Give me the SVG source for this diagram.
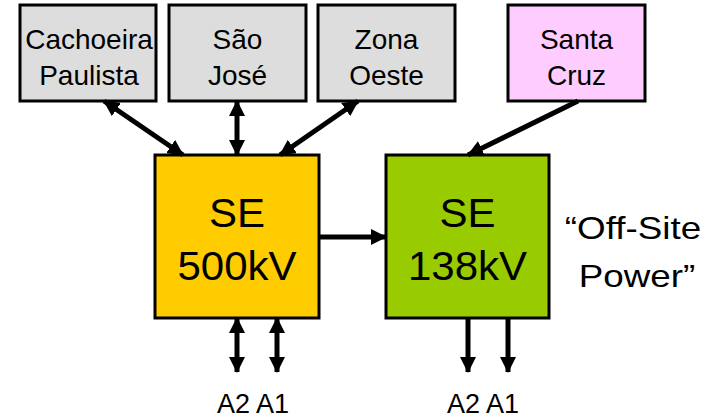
<svg xmlns="http://www.w3.org/2000/svg" width="712" height="416" viewBox="0 0 712 416">
<style>
.box{stroke:#000;stroke-width:3}
.t{font-family:"Liberation Sans",Arial,sans-serif;fill:#000;text-anchor:middle}
.s{font-size:28px}
.b{font-size:40px}
.c{stroke:#000;stroke-width:5;fill:none}
</style>
<defs>
<marker id="ah" viewBox="0 0 16 16" refX="15" refY="8" markerWidth="16" markerHeight="16" markerUnits="userSpaceOnUse" orient="auto-start-reverse">
<path d="M0,0 L16,8 L0,16 z" fill="#000"/>
</marker>
</defs>
<rect width="712" height="416" fill="#fff"/>
<g id="cachoeira">
<rect class="box" x="20" y="5" width="136" height="96" fill="#DDDDDD"/>
<text class="t s" x="89" y="49">Cachoeira</text>
<text class="t s" x="89" y="85">Paulista</text>
</g>
<g id="saojose">
<rect class="box" x="169" y="5" width="137" height="96" fill="#DDDDDD"/>
<text class="t s" x="237.5" y="49">São</text>
<text class="t s" x="237.5" y="85">José</text>
</g>
<g id="zonaoeste">
<rect class="box" x="318" y="5" width="137" height="96" fill="#DDDDDD"/>
<text class="t s" x="386.5" y="49">Zona</text>
<text class="t s" x="386.5" y="85">Oeste</text>
</g>
<g id="santacruz">
<rect class="box" x="508" y="5" width="137" height="96" fill="#FFCCFF"/>
<text class="t s" x="576.5" y="49">Santa</text>
<text class="t s" x="576.5" y="85">Cruz</text>
</g>
<g id="se500">
<rect class="box" x="155" y="155" width="164" height="163" fill="#FFCC00"/>
<g transform="translate(237,0) scale(1.05,1)">
<text class="t b" x="0" y="227">SE</text>
<text class="t b" x="0" y="280">500kV</text>
</g>
</g>
<g id="se138">
<rect class="box" x="386" y="155" width="163" height="163" fill="#99CC00"/>
<g transform="translate(467.5,0) scale(1.05,1)">
<text class="t b" x="0" y="227">SE</text>
<text class="t b" x="0" y="280">138kV</text>
</g>
</g>
<g id="offsite">
<text class="t" style="font-size:32px" transform="translate(633,0) scale(1.15,1)" x="0" y="239">“Off-Site</text>
<text class="t" style="font-size:32px" transform="translate(637,0) scale(1.15,1)" x="0" y="287">Power”</text>
</g>
<g id="labels">
<text class="t" style="font-size:27px" x="253" y="413">A2 A1</text>
<text class="t" style="font-size:27px" x="483" y="413">A2 A1</text>
</g>
<g id="connectors">
<line class="c" x1="104" y1="101" x2="183" y2="155" marker-start="url(#ah)" marker-end="url(#ah)"/>
<line class="c" x1="237" y1="101" x2="237" y2="155" marker-start="url(#ah)" marker-end="url(#ah)"/>
<line class="c" x1="358" y1="101" x2="280" y2="155" marker-start="url(#ah)" marker-end="url(#ah)"/>
<line class="c" x1="578" y1="101" x2="468" y2="155" marker-end="url(#ah)"/>
<line class="c" x1="319" y1="237" x2="386" y2="237" marker-end="url(#ah)"/>
<line class="c" x1="237" y1="318" x2="237" y2="372" marker-start="url(#ah)" marker-end="url(#ah)"/>
<line class="c" x1="277" y1="318" x2="277" y2="372" marker-start="url(#ah)" marker-end="url(#ah)"/>
<line class="c" x1="468" y1="318" x2="468" y2="372" marker-end="url(#ah)"/>
<line class="c" x1="508" y1="318" x2="508" y2="372" marker-end="url(#ah)"/>
</g>
</svg>
